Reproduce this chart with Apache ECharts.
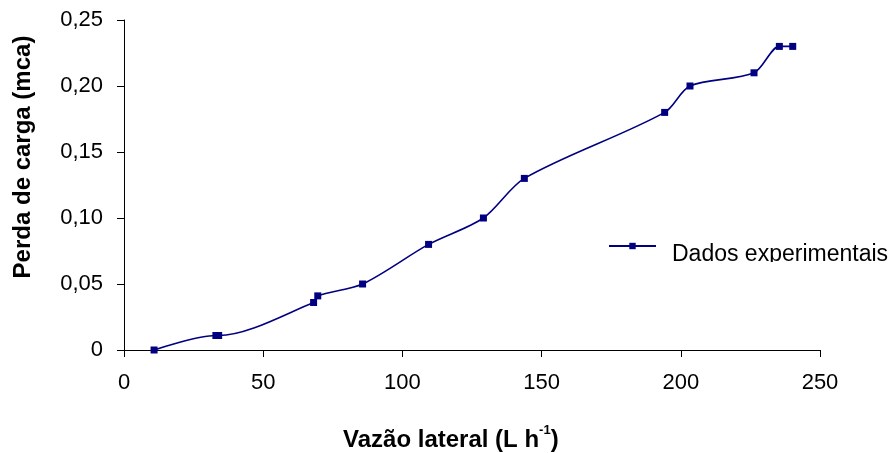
<!DOCTYPE html>
<html>
<head>
<meta charset="utf-8">
<script src="https://cdn.jsdelivr.net/npm/echarts@6/dist/echarts.min.js"></script>
<style>
html,body{margin:0;padding:0;background:#fff;}
#chart{width:892px;height:453px;}
</style>
</head>
<body>
<div id="chart"></div>
<script>
// Data
var vazao = [10.8, 33.0, 34.0, 68.1, 69.6, 85.7, 109.4, 129.1, 143.8, 194.2, 203.3, 226.3, 235.4, 240.2];
var perda = [0.000, 0.011, 0.011, 0.036, 0.041, 0.050, 0.080, 0.100, 0.130, 0.180, 0.200, 0.210, 0.230, 0.230];
var xTicks = [0, 50, 100, 150, 200, 250];
var yTicks = ['0', '0,05', '0,10', '0,15', '0,20', '0,25'];
var seriesName = 'Dados experimentais';
var xTitle = 'Vazão lateral (L h';
var yTitle = 'Perda de carga (mca)';

var points = vazao.map(function (v, i) { return [v, perda[i]]; });
var FONT = '"Liberation Sans", Arial, sans-serif';
var NAVY = '#000080';

var chart = echarts.init(document.getElementById('chart'), null, {renderer: 'canvas'});
chart.setOption({
  animation: false,
  backgroundColor: '#ffffff',
  grid: {left: 124, right: 72, top: 20, bottom: 103},
  xAxis: {
    type: 'value', min: xTicks[0], max: xTicks[xTicks.length - 1], interval: 50,
    axisLine: {show: true, onZero: false, lineStyle: {color: '#000', width: 1}},
    axisTick: {show: true, length: 7, lineStyle: {color: '#000'}},
    splitLine: {show: false},
    axisLabel: {margin: 22, fontFamily: FONT, fontSize: 22, color: '#000'}
  },
  yAxis: {
    type: 'value', min: 0, max: 0.25, interval: 0.05,
    axisLine: {show: true, lineStyle: {color: '#000', width: 1}},
    axisTick: {show: true, length: 7, lineStyle: {color: '#000'}},
    splitLine: {show: false},
    axisLabel: {
      margin: 21, fontFamily: FONT, fontSize: 22, color: '#000',
      formatter: function (v) { return yTicks[Math.round(v / 0.05)]; }
    }
  },
  legend: {
    show: true, left: 608, top: 242, padding: 0, itemWidth: 47, itemHeight: 8,
    data: [{name: seriesName}],
    formatter: function () { return ''; },
    textStyle: {fontSize: 1}
  },
  graphic: [
    {type: 'text', left: 672, top: 243, z: 100,
      style: {text: seriesName, font: '23px ' + FONT, fill: '#000'}},
    {type: 'rect', z: 1000, shape: {x: 660, y: 262, width: 232, height: 20}, style: {fill: '#fff'}},
    {type: 'text', x: 23, y: 157, rotation: Math.PI / 2, z: 100,
      style: {text: yTitle, font: 'bold 24px ' + FONT, fill: '#000', align: 'center', verticalAlign: 'middle'}},
    {type: 'text', left: 343, top: 424, z: 100,
      style: {
        text: '{t|' + xTitle + '}{s|-1}{t|)}',
        rich: {
          t: {fontFamily: FONT, fontSize: 24, fontWeight: 'bold', fill: '#000', verticalAlign: 'bottom', lineHeight: 28},
          s: {fontFamily: FONT, fontSize: 13, fontWeight: 'bold', fill: '#000', verticalAlign: 'top', lineHeight: 28, padding: [0, 0, 12, 0]}
        }
      }
    }
  ],
  series: [{
    name: seriesName, type: 'line', data: points, smooth: 0.3,
    symbol: 'rect', symbolSize: 7, showAllSymbol: true,
    lineStyle: {color: NAVY, width: 1.6},
    itemStyle: {color: NAVY}
  }]
});
</script>
</body>
</html>
